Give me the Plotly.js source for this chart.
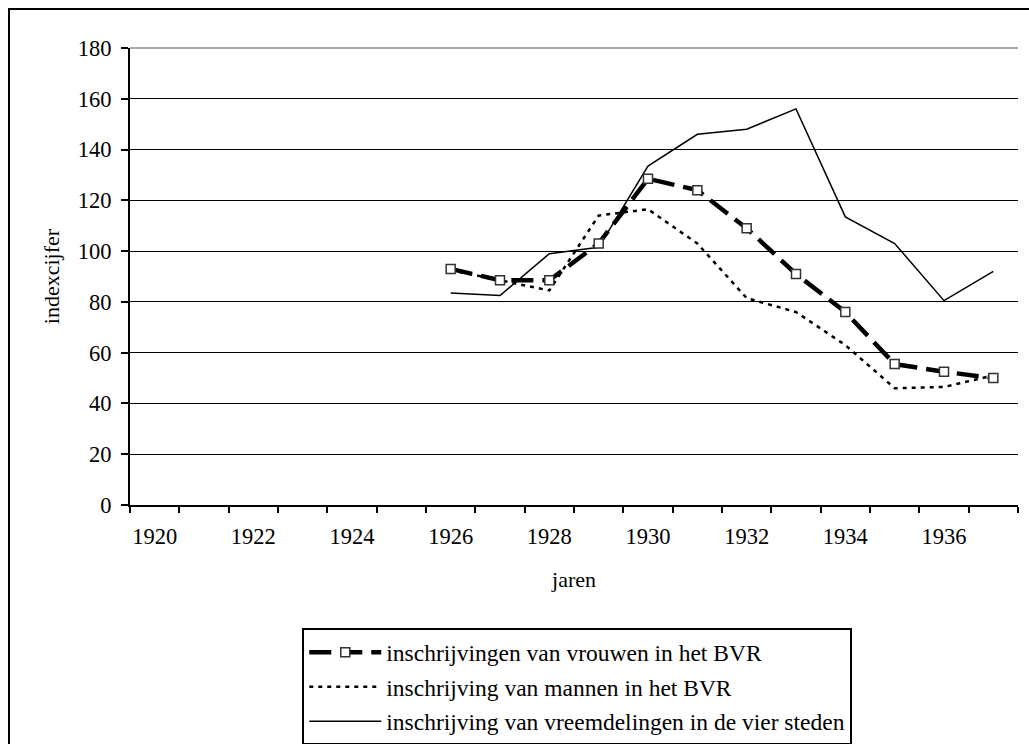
<!DOCTYPE html>
<html>
<head>
<meta charset="utf-8">
<script src="https://cdn.plot.ly/plotly-3.0.1.min.js"></script>
<style>
html, body { margin: 0; padding: 0; width: 1029px; height: 744px; overflow: hidden; background: #fff; }
#chart { position: absolute; left: 0; top: 0; width: 1029px; height: 744px; }
#frame { position: absolute; left: 8px; top: 8px; width: 1100px; height: 800px; border: 2px solid #000; pointer-events: none; }
</style>
</head>
<body>
<div id="chart"></div>
<div id="frame"></div>
<script>
const years = [1926, 1927, 1928, 1929, 1930, 1931, 1932, 1933, 1934, 1935, 1936, 1937];
const vrouwenBVR = [93, 88.5, 88.5, 103, 128.5, 124, 109, 91, 76, 55.5, 52.5, 50];
const mannenBVR = [92.5, 88.5, 84.5, 114, 116.5, 103, 81.5, 76, 63, 46, 46.5, 51];
const vreemdelingen = [83.5, 82.5, 99, 101.5, 133.5, 146, 148, 156, 113.5, 103, 80.5, 92];
const tickYears = [1920, 1922, 1924, 1926, 1928, 1930, 1932, 1934, 1936];
const seriesNames = [
  'inschrijvingen van vrouwen in het BVR',
  'inschrijving van mannen in het BVR',
  'inschrijving van vreemdelingen in de vier steden'
];

const font = '"Liberation Serif", "Times New Roman", serif';

const traces = [
  {
    x: years, y: vreemdelingen, name: seriesNames[2], type: 'scatter', mode: 'lines',
    line: { color: '#000', width: 1.5 }, legendrank: 3, legendgroup: 'c'
  },
  {
    x: years, y: mannenBVR, name: seriesNames[1], type: 'scatter', mode: 'lines',
    line: { color: '#000', width: 2.5, dash: '4px,5px' }, legendrank: 2, legendgroup: 'b'
  },
  {
    x: years, y: vrouwenBVR, name: seriesNames[0], type: 'scatter', mode: 'lines+markers',
    line: { color: '#000', width: 4.5, dash: '22px,9px' },
    marker: { symbol: 'square', size: 9, color: '#fff', line: { color: '#333', width: 1.5 } },
    legendrank: 1, legendgroup: 'a'
  }
];

const layout = {
  width: 1029, height: 744,
  margin: { l: 130, r: 11, t: 48, b: 239, autoexpand: false },
  paper_bgcolor: '#fff', plot_bgcolor: '#fff',
  font: { family: font, size: 22, color: '#000' },
  showlegend: true,
  xaxis: {
    type: 'linear', range: [1919.5, 1937.5],
    tickvals: tickYears, ticktext: tickYears.map(String),
    ticks: '', showgrid: false, zeroline: false,
    showline: true, linecolor: '#000', linewidth: 2,
    tickfont: { family: font, size: 22.5 },
    ticklabelstandoff: 10,
    minor: { tick0: 1919.5, dtick: 1, ticks: 'outside', ticklen: 6, tickwidth: 2, tickcolor: '#000', showgrid: false },
    title: { text: 'jaren', font: { family: font, size: 22 }, standoff: 24 },
    automargin: false
  },
  yaxis: {
    range: [0, 180], dtick: 20, tick0: 0,
    ticks: 'outside', ticklen: 7, tickwidth: 2, tickcolor: '#000',
    showgrid: true, gridcolor: '#000', gridwidth: 1,
    zeroline: false, showline: true, linecolor: '#000', linewidth: 2,
    tickfont: { family: font, size: 22.5 },
    ticklabelstandoff: 5,
    title: { text: 'indexcijfer', font: { family: font, size: 22 }, standoff: 12 },
    automargin: false
  },
  shapes: [
    { type: 'line', xref: 'paper', yref: 'paper', x0: 0, x1: 1, y0: 1, y1: 1, line: { color: '#aaa', width: 2 }, layer: 'above' }
  ],
  legend: {
    x: 0.194, xanchor: 'left', y: -0.27, yanchor: 'top',
    bgcolor: '#fff', bordercolor: '#000', borderwidth: 2,
    font: { family: font, size: 23.5 },
    traceorder: 'grouped', tracegroupgap: 1, itemwidth: 72
  }
};

Plotly.newPlot('chart', traces, layout, { staticPlot: true, displayModeBar: false });
</script>
</body>
</html>
